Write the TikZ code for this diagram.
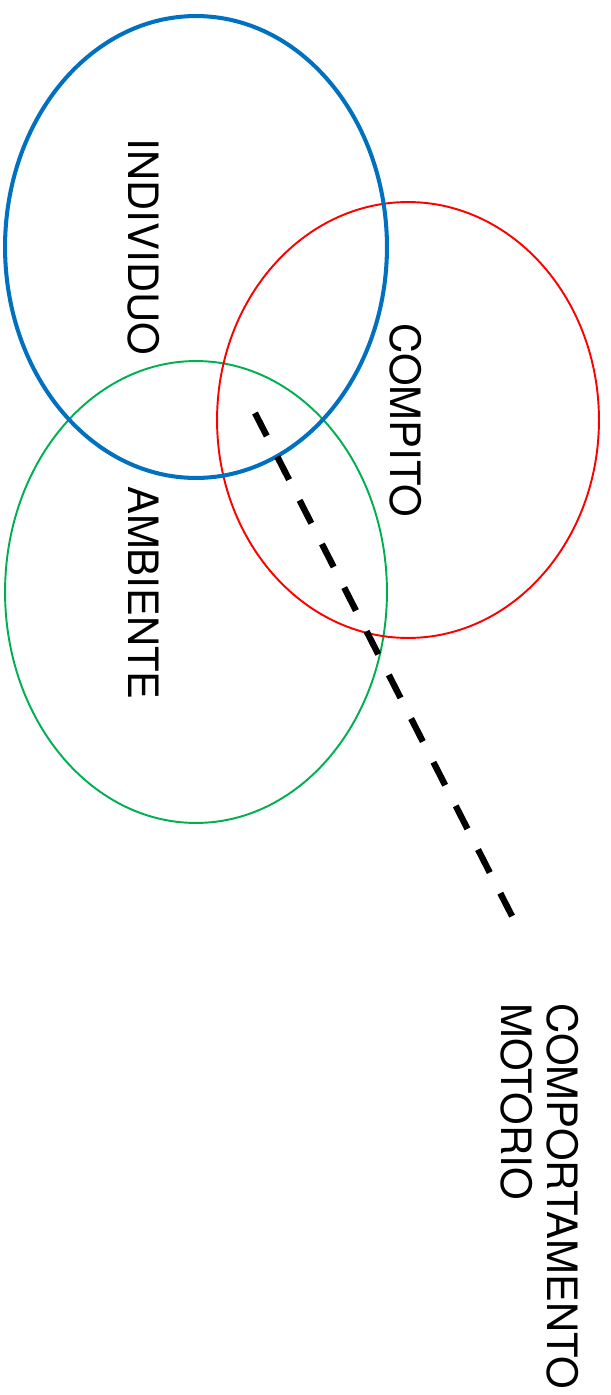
\documentclass[tikz,border=0pt]{standalone}
\usepackage{fontspec}
\setmainfont{TeX Gyre Heros}
\usetikzlibrary{shapes.geometric}
\definecolor{indBlue}{RGB}{0,112,192}
\definecolor{compRed}{RGB}{255,0,0}
\definecolor{ambGreen}{RGB}{0,176,80}

\begin{document}
\begin{tikzpicture}[
  x=0.02cm, y=-0.02cm,
  area/.style={ellipse, draw, inner sep=0pt, minimum width=7.64cm},
  lbl/.style={rotate=-90, inner sep=0pt, text centered, align=left, font=\fontsize{23.8}{26}\selectfont},
  link/.style={draw=black, line width=3.6pt, dash pattern=on 14.7pt off 13.2pt}
]
  \useasboundingbox (0,0) rectangle (610,1395);

  % Areas
  \node[area, draw=ambGreen, line width=1.1pt, minimum height=9.24cm] (amb) at (196,592) {};
  \node[area, draw=compRed, line width=1.1pt, minimum height=8.72cm] (comp) at (408,420) {};
  \node[area, draw=indBlue, line width=2.3pt, minimum height=9.24cm] (ind) at (196,247) {};

  % Labels
  \node[lbl] (indlbl) at (144,247) {INDIVIDUO};
  \node[lbl] (complbl) at (406,420) {COMPITO};
  \node[lbl] (amblbl) at (144,593) {AMBIENTE};
  \node[lbl] (behav) at (540,1196) {COMPORTAMENTO\\MOTORIO};

  % Link
  \coordinate (core) at (255,413);
  \coordinate (tip) at (513,918);
  \path[link] (core) -- (tip);

\end{tikzpicture}
\end{document}
